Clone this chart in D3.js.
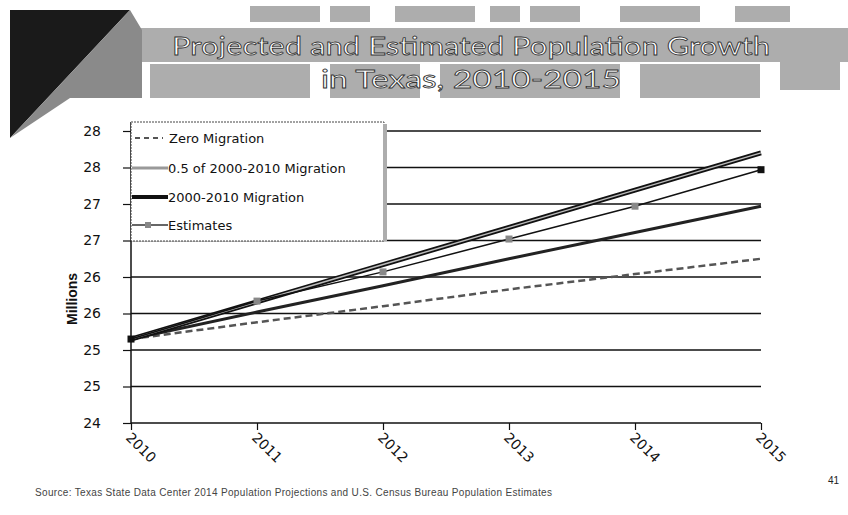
<!DOCTYPE html>
<html lang="en">
<head>
  <meta charset="UTF-8">
  <title>Projected and Estimated Population Growth in Texas</title>
  <style>
    body { margin: 0; background: #fff; }
  </style>
</head>
<body>
  <script src="https://d3js.org/d3.v7.min.js"></script>
  <script>
    // Data (millions)
    let years = [2010, 2011, 2012, 2013, 2014, 2015];
    let zeroMigration = [25.15, 25.38, 25.60, 25.83, 26.04, 26.25];
    let halfMigration = [25.15, 25.52, 25.88, 26.25, 26.61, 26.97];
    let fullMigration = [25.15, 25.66, 26.17, 26.68, 27.19, 27.70];
    let estimates = [25.15, 25.67, 26.07, 26.52, 26.97, 27.47];
    let yTicks = [24, 24.5, 25, 25.5, 26, 26.5, 27, 27.5, 28];
    let seriesNames = ["Zero Migration", "0.5 of 2000-2010 Migration", "2000-2010 Migration", "Estimates"];

    let svgWidth = 848;
    let svgHeight = 515;

    let svg = d3.select("body")
      .append("svg")
      .attr("width", svgWidth)
      .attr("height", svgHeight);

    let grayFill = "#adadad";

    // ---- header decoration ----
    let header = svg.append("g");
    let blocks = [
      [120, 28, 728, 34], [250, 6, 70, 16], [330, 6, 40, 16], [395, 6, 80, 16],
      [490, 6, 30, 16], [530, 6, 50, 16], [620, 6, 80, 16], [735, 6, 55, 16],
      [150, 64, 160, 34], [330, 64, 90, 34], [440, 64, 180, 34], [640, 64, 120, 34],
      [780, 40, 60, 50]
    ];
    header.selectAll("rect.block")
      .data(blocks)
      .enter()
      .append("rect")
      .attr("class", "block")
      .attr("x", d => d[0]).attr("y", d => d[1])
      .attr("width", d => d[2]).attr("height", d => d[3])
      .attr("fill", grayFill);

    header.append("path")
      .attr("d", "M10,10 L130,10 L10,138 Z")
      .attr("fill", "#1a1a1a");
    header.append("path")
      .attr("d", "M10,138 L130,10 L142,30 L142,98 L70,98 Z")
      .attr("fill", "#8a8a8a");

    header.selectAll("text.title")
      .data(["Projected and Estimated Population Growth", "in Texas, 2010-2015"])
      .enter()
      .append("text")
      .attr("class", "title")
      .attr("x", 471)
      .attr("y", (d, i) => 55 + i * 33)
      .attr("text-anchor", "middle")
      .attr("textLength", (d, i) => i === 0 ? 598 : 300)
      .attr("lengthAdjust", "spacingAndGlyphs")
      .style("font-family", "Lato, 'Open Sans', sans-serif")
      .style("font-size", "25px")
      .attr("fill", "#fff")
      .attr("stroke", "#333")
      .attr("stroke-width", 0.8)
      .text(d => d);

    // ---- chart ----
    let x = d3.scaleLinear().domain([2010, 2015]).range([131, 761]);
    let y = d3.scaleLinear().domain([24, 28]).range([423, 131]);

    let chart = svg.append("g");

    // gridlines
    chart.selectAll("line.grid")
      .data(yTicks)
      .enter()
      .append("line")
      .attr("class", "grid")
      .attr("x1", x(2010)).attr("x2", x(2015))
      .attr("y1", d => y(d)).attr("y2", d => y(d))
      .attr("stroke", "#111")
      .attr("stroke-width", 1.5);

    // y axis
    let yAxis = chart.append("g")
      .attr("transform", `translate(${x(2010)},0)`)
      .call(d3.axisLeft(y).tickValues(yTicks).tickFormat(d3.format(".0f")).tickSizeOuter(0).tickSize(8).tickPadding(22));
    yAxis.select(".domain").attr("stroke", "#111").attr("stroke-width", 1.5)
      .attr("d", `M0,${y(24)}V${y(28) - 9}`);
    yAxis.selectAll(".tick line").attr("stroke", "#111").attr("stroke-width", 1.2);
    yAxis.selectAll(".tick text")
      .style("font-family", "'DejaVu Sans', sans-serif")
      .style("font-size", "14px")
      .attr("fill", "#111");

    // x axis
    let xAxis = chart.append("g")
      .attr("transform", `translate(0,${y(24)})`)
      .call(d3.axisBottom(x).tickValues(years).tickFormat(d3.format("d")).tickSizeOuter(0).tickSize(7));
    xAxis.select(".domain").remove();
    xAxis.selectAll(".tick line").attr("stroke", "#111").attr("stroke-width", 1.2);
    xAxis.selectAll(".tick text")
      .attr("text-anchor", "start")
      .attr("transform", "translate(-3,12) rotate(45)")
      .attr("dy", "0.35em")
      .attr("y", 0)
      .style("font-family", "'DejaVu Sans', sans-serif")
      .style("font-size", "14px")
      .attr("fill", "#111");

    // Millions label
    svg.append("text")
      .attr("transform", `translate(77,${y(25.7)}) rotate(-90)`)
      .attr("text-anchor", "middle")
      .style("font-family", "'Liberation Sans Narrow', 'Liberation Sans', sans-serif")
      .style("font-weight", "bold")
      .style("font-size", "14px")
      .attr("fill", "#111")
      .text("Millions");

    let line = d3.line()
      .x((d, i) => x(years[i]))
      .y(d => y(d));

    // zero migration: dashed
    chart.append("path")
      .attr("d", line(zeroMigration))
      .attr("fill", "none")
      .attr("stroke", "#555")
      .attr("stroke-width", 2.5)
      .attr("stroke-dasharray", "7,4");

    // half migration
    chart.append("path")
      .attr("d", line(halfMigration))
      .attr("fill", "none")
      .attr("stroke", "#222")
      .attr("stroke-width", 3);

    // full migration: double line
    chart.append("path")
      .attr("d", line(fullMigration))
      .attr("fill", "none")
      .attr("stroke", "#111")
      .attr("stroke-width", 5);
    chart.append("path")
      .attr("d", line(fullMigration))
      .attr("fill", "none")
      .attr("stroke", "#bbb")
      .attr("stroke-width", 1.5);

    // estimates
    chart.append("path")
      .attr("d", line(estimates))
      .attr("fill", "none")
      .attr("stroke", "#111")
      .attr("stroke-width", 1.5);
    chart.selectAll("rect.est")
      .data(estimates)
      .enter()
      .append("rect")
      .attr("class", "est")
      .attr("x", (d, i) => x(years[i]) - 3.5)
      .attr("y", d => y(d) - 3.5)
      .attr("width", 7).attr("height", 7)
      .attr("fill", (d, i) => i === estimates.length - 1 || i === 0 ? "#111" : "#888");

    // ---- legend ----
    let legend = svg.append("g");
    legend.append("rect")
      .attr("x", 131).attr("y", 122)
      .attr("width", 253).attr("height", 119)
      .attr("fill", "#fff")
      .attr("stroke", "#444")
      .attr("stroke-width", 1)
      .attr("stroke-dasharray", "2,1");
    legend.append("rect")
      .attr("x", 383).attr("y", 124)
      .attr("width", 4).attr("height", 117)
      .attr("fill", grayFill);

    let legendY = [138, 168, 197, 225];
    let item = legend.selectAll("g.item")
      .data(seriesNames)
      .enter()
      .append("g")
      .attr("class", "item")
      .attr("transform", (d, i) => `translate(0,${legendY[i]})`);

    item.append("line")
      .attr("x1", (d, i) => i === 0 ? 135 : 132)
      .attr("x2", (d, i) => i === 0 ? 163 : 168)
      .attr("stroke", (d, i) => ["#555", "#999", "#111", "#333"][i])
      .attr("stroke-width", (d, i) => [2, 3, 4, 1.5][i])
      .attr("stroke-dasharray", (d, i) => i === 0 ? "5,4" : null);
    item.filter((d, i) => i === 3)
      .append("rect")
      .attr("x", 145).attr("y", -3).attr("width", 6).attr("height", 6)
      .attr("fill", "#888");
    item.append("text")
      .attr("x", (d, i) => i === 0 ? 169 : 168)
      .attr("dy", "0.35em")
      .style("font-family", "'DejaVu Sans', sans-serif")
      .style("font-size", "13px")
      .attr("fill", "#111")
      .text(d => d);

    // ---- footer ----
    svg.append("text")
      .attr("x", 35).attr("y", 496)
      .attr("textLength", 517)
      .attr("lengthAdjust", "spacing")
      .style("font-family", "'Liberation Sans', Arial, sans-serif")
      .style("font-size", "10px")
      .attr("fill", "#444")
      .text("Source: Texas State Data Center 2014 Population Projections and U.S. Census Bureau Population Estimates");
    svg.append("text")
      .attr("x", 828).attr("y", 484)
      .style("font-family", "'Liberation Sans', Arial, sans-serif")
      .style("font-size", "10px")
      .attr("fill", "#222")
      .text("41");
  </script>
</body>
</html>
